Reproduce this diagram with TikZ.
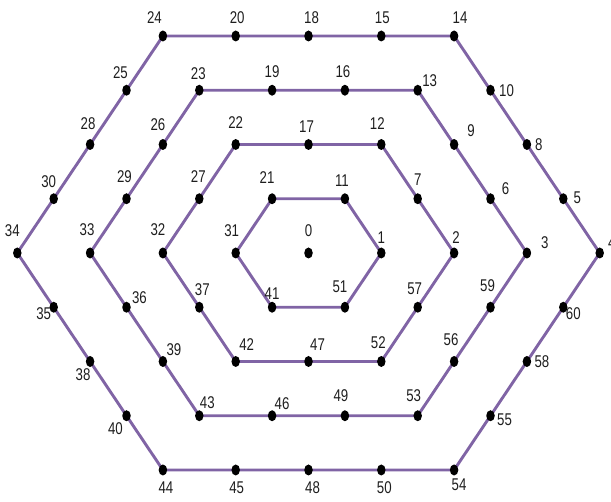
\documentclass[tikz,border=0pt]{standalone}
\usepackage{fontspec}
\newfontfamily\labfont[FakeStretch=0.78]{Liberation Sans}
\usetikzlibrary{shapes.geometric,backgrounds}
\definecolor{ringcol}{RGB}{128,100,165}
\definecolor{labcol}{RGB}{30,30,30}
\tikzset{
  dot/.style={ellipse,fill=black,draw=none,minimum width=8.5pt,minimum height=11pt,inner sep=0pt},
  lab/.style={font=\labfont\fontsize{17pt}{17pt}\selectfont,text=labcol,inner sep=0pt},
  edge/.style={draw=ringcol,line width=2.9pt,line join=round}
}
\newcommand\plab[3]{\node[lab] (t#1) at ([shift={(#2pt,#3pt)}]n#1.center) {#1};}
\begin{document}
\begin{tikzpicture}
\useasboundingbox (0,0) rectangle (611pt,502pt);
\begin{scope}[shift={(308.5pt,249pt)},x=36.4pt,y=54.25pt]
% centre
\node[dot] (n0) at (0,0) {};
% ring 1
\node[dot] (n21) at (-1,1) {};
\node[dot] (n11) at (1,1) {};
\node[dot] (n1) at (2,0) {};
\node[dot] (n51) at (1,-1) {};
\node[dot] (n41) at (-1,-1) {};
\node[dot] (n31) at (-2,0) {};
% ring 2
\node[dot] (n22) at (-2,2) {};
\node[dot] (n17) at (0,2) {};
\node[dot] (n12) at (2,2) {};
\node[dot] (n7) at (3,1) {};
\node[dot] (n2) at (4,0) {};
\node[dot] (n57) at (3,-1) {};
\node[dot] (n52) at (2,-2) {};
\node[dot] (n47) at (0,-2) {};
\node[dot] (n42) at (-2,-2) {};
\node[dot] (n37) at (-3,-1) {};
\node[dot] (n32) at (-4,0) {};
\node[dot] (n27) at (-3,1) {};
% ring 3
\node[dot] (n23) at (-3,3) {};
\node[dot] (n19) at (-1,3) {};
\node[dot] (n16) at (1,3) {};
\node[dot] (n13) at (3,3) {};
\node[dot] (n9) at (4,2) {};
\node[dot] (n6) at (5,1) {};
\node[dot] (n3) at (6,0) {};
\node[dot] (n59) at (5,-1) {};
\node[dot] (n56) at (4,-2) {};
\node[dot] (n53) at (3,-3) {};
\node[dot] (n49) at (1,-3) {};
\node[dot] (n46) at (-1,-3) {};
\node[dot] (n43) at (-3,-3) {};
\node[dot] (n39) at (-4,-2) {};
\node[dot] (n36) at (-5,-1) {};
\node[dot] (n33) at (-6,0) {};
\node[dot] (n29) at (-5,1) {};
\node[dot] (n26) at (-4,2) {};
% ring 4
\node[dot] (n24) at (-4,4) {};
\node[dot] (n20) at (-2,4) {};
\node[dot] (n18) at (0,4) {};
\node[dot] (n15) at (2,4) {};
\node[dot] (n14) at (4,4) {};
\node[dot] (n10) at (5,3) {};
\node[dot] (n8) at (6,2) {};
\node[dot] (n5) at (7,1) {};
\node[dot] (n4) at (8,0) {};
\node[dot] (n60) at (7,-1) {};
\node[dot] (n58) at (6,-2) {};
\node[dot] (n55) at (5,-3) {};
\node[dot] (n54) at (4,-4) {};
\node[dot] (n50) at (2,-4) {};
\node[dot] (n48) at (0,-4) {};
\node[dot] (n45) at (-2,-4) {};
\node[dot] (n44) at (-4,-4) {};
\node[dot] (n40) at (-5,-3) {};
\node[dot] (n38) at (-6,-2) {};
\node[dot] (n35) at (-7,-1) {};
\node[dot] (n34) at (-8,0) {};
\node[dot] (n30) at (-7,1) {};
\node[dot] (n28) at (-6,2) {};
\node[dot] (n25) at (-5,3) {};
\end{scope}
\begin{pgfonlayer}{background}
\draw[edge] (n21.center) -- (n11.center) -- (n1.center) -- (n51.center) -- (n41.center) -- (n31.center) -- cycle;
\draw[edge] (n22.center) -- (n17.center) -- (n12.center) -- (n7.center) -- (n2.center) -- (n57.center) -- (n52.center) -- (n47.center) -- (n42.center) -- (n37.center) -- (n32.center) -- (n27.center) -- cycle;
\draw[edge] (n23.center) -- (n19.center) -- (n16.center) -- (n13.center) -- (n9.center) -- (n6.center) -- (n3.center) -- (n59.center) -- (n56.center) -- (n53.center) -- (n49.center) -- (n46.center) -- (n43.center) -- (n39.center) -- (n36.center) -- (n33.center) -- (n29.center) -- (n26.center) -- cycle;
\draw[edge] (n24.center) -- (n20.center) -- (n18.center) -- (n15.center) -- (n14.center) -- (n10.center) -- (n8.center) -- (n5.center) -- (n4.center) -- (n60.center) -- (n58.center) -- (n55.center) -- (n54.center) -- (n50.center) -- (n48.center) -- (n45.center) -- (n44.center) -- (n40.center) -- (n38.center) -- (n35.center) -- (n34.center) -- (n30.center) -- (n28.center) -- (n25.center) -- cycle;
\end{pgfonlayer}
% labels
\plab{24}{-8.5}{18}
\plab{20}{1.5}{18}
\plab{18}{3}{18}
\plab{15}{1}{18}
\plab{14}{6}{18}
\plab{10}{16}{0}
\plab{8}{12}{0}
\plab{5}{14}{1}
\plab{4}{12}{10}
\plab{3}{18}{10}
\plab{6}{15}{10}
\plab{9}{17}{14}
\plab{13}{12}{10}
\plab{16}{-2}{19}
\plab{19}{0}{19}
\plab{23}{-1}{17}
\plab{25}{-6}{18}
\plab{28}{-2}{21}
\plab{30}{-5}{17}
\plab{34}{-5}{22}
\plab{26}{-5}{20}
\plab{22}{0}{22}
\plab{17}{-2}{18}
\plab{12}{-4}{21}
\plab{7}{0}{19}
\plab{2}{2}{15}
\plab{1}{0}{15}
\plab{0}{0}{22}
\plab{11}{-3}{18}
\plab{21}{-5}{21}
\plab{31}{-4}{22}
\plab{27}{-1}{22}
\plab{29}{-2}{22}
\plab{32}{-5}{23}
\plab{33}{-3}{23}
\plab{35}{-10}{-6}
\plab{38}{-7}{-13}
\plab{40}{-11}{-13}
\plab{44}{3}{-18}
\plab{45}{1}{-18}
\plab{48}{4}{-18}
\plab{50}{3}{-18}
\plab{54}{5}{-15}
\plab{55}{14}{-4}
\plab{58}{15}{0}
\plab{60}{10}{-6}
\plab{59}{-3}{22}
\plab{56}{-3}{22}
\plab{53}{-4}{20}
\plab{49}{-4}{20}
\plab{57}{-3}{19}
\plab{52}{-3}{19}
\plab{47}{9}{17}
\plab{51}{-5}{21}
\plab{41}{0}{14}
\plab{42}{11}{17}
\plab{37}{3}{18}
\plab{36}{13}{10}
\plab{39}{11}{12}
\plab{43}{8}{13}
\plab{46}{10}{12}
\end{tikzpicture}
\end{document}
